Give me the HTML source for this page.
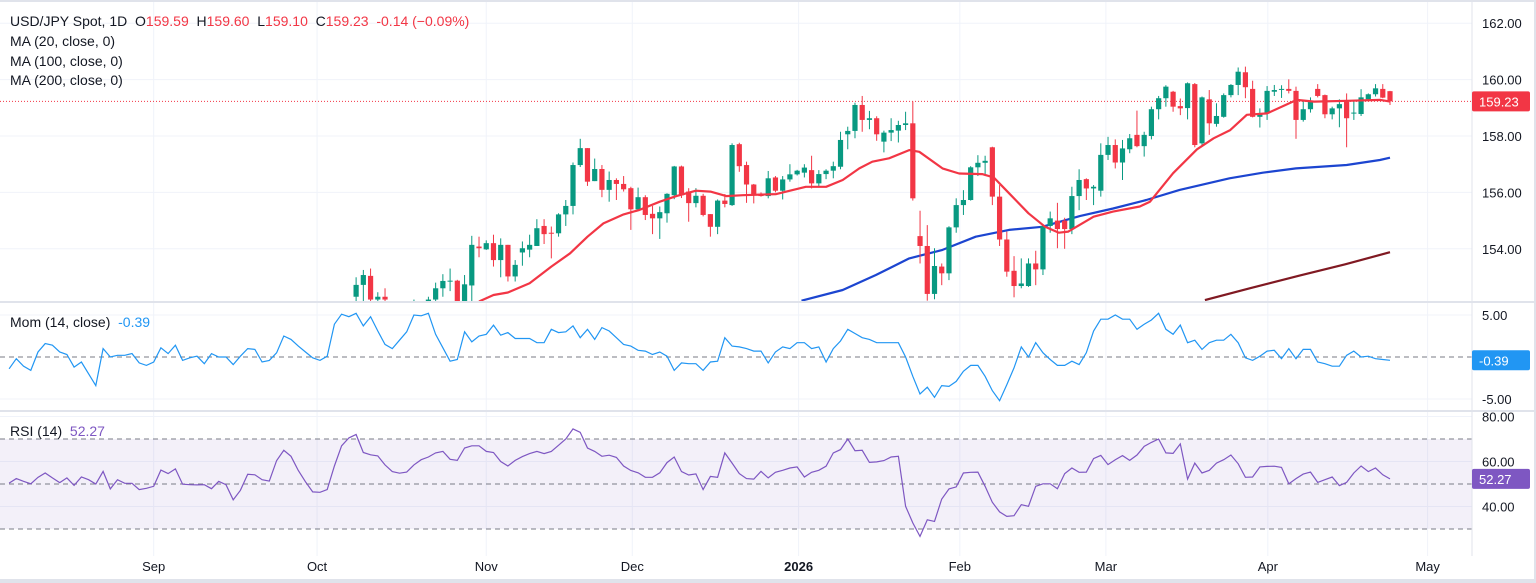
<!DOCTYPE html>
<html><head><meta charset="utf-8"><style>
html,body{margin:0;padding:0;background:#fff;}
svg{display:block;font-family:"Liberation Sans",sans-serif;}
</style></head><body>
<svg id="chart" width="1536" height="583" viewBox="0 0 1536 583" xmlns="http://www.w3.org/2000/svg">
<defs>
<clipPath id="cMain"><rect x="0" y="0" width="1472" height="301"/></clipPath>
<clipPath id="cMom"><rect x="0" y="303" width="1472" height="107"/></clipPath>
<clipPath id="cRsi"><rect x="0" y="412" width="1472" height="144"/></clipPath>
</defs>
<rect x="0" y="0" width="1536" height="583" fill="#fff"/>
<g id="grid"></g>
<g id="panes"></g>
<g id="marks"></g>
<g id="axes"></g>
<g id="legend" font-size="14" fill="#131722">
<text x="10" y="26" xml:space="preserve">USD/JPY Spot, 1D  O<tspan fill="#f23645">159.59</tspan>  H<tspan fill="#f23645">159.60</tspan>  L<tspan fill="#f23645">159.10</tspan>  C<tspan fill="#f23645">159.23  -0.14 (−0.09%)</tspan></text>
<text x="10" y="46">MA (20, close, 0)</text>
<text x="10" y="66">MA (100, close, 0)</text>
<text x="10" y="85">MA (200, close, 0)</text>
<text x="10" y="327" xml:space="preserve">Mom (14, close)  <tspan fill="#2196f3">-0.39</tspan></text>
<text x="10" y="436" xml:space="preserve">RSI (14)  <tspan fill="#7e57c2">52.27</tspan></text>
</g>
</svg>
<script>
const candleStart = 48;
const opens = [152.3,152.72,153.04,152.2,152.3,152.0,151.6,151.5,151.8,151.9,152.0,152.2,152.6,152.85,152.87,152.1,152.7,154.08,153.98,154.2,153.6,154.14,153.02,153.87,153.97,154.1,154.81,154.57,154.55,155.22,155.52,156.97,157.57,156.4,156.83,156.09,156.44,156.3,156.15,155.4,155.83,155.24,155.08,155.26,155.9,156.92,156.03,155.62,155.88,155.23,154.78,155.71,155.55,157.71,156.97,156.28,155.94,155.87,156.53,156.06,156.46,156.64,156.7,156.79,156.32,156.65,156.77,156.91,158.06,158.18,159.1,158.57,158.63,157.8,158.12,158.19,158.39,158.45,154.45,154.1,152.4,153.37,153.13,154.76,155.55,155.73,156.89,157.05,157.6,155.85,154.33,153.22,152.68,152.68,153.48,153.27,154.81,155.0,155.0,154.7,155.87,156.47,156.14,156.06,157.33,157.68,157.06,157.53,158.04,157.64,158.0,158.95,159.34,159.57,159.06,158.99,159.84,157.74,159.3,158.43,158.68,159.45,159.81,160.26,159.67,158.68,158.82,159.57,159.66,159.67,159.6,158.57,158.95,159.67,159.45,158.77,158.98,159.22,158.8,158.78,159.3,159.48,159.67,159.59];
const highs = [152.99,153.25,153.3,152.46,152.6,152.1,151.9,152.0,152.2,152.1,152.3,152.8,153.1,153.3,152.9,153.07,154.46,154.43,154.3,154.5,154.37,154.14,153.6,154.26,154.5,155.05,155.05,154.79,155.26,155.73,157.06,157.9,157.57,157.2,156.97,156.74,156.5,156.58,156.2,156.17,155.9,155.52,155.5,155.97,156.94,156.95,156.15,156.15,155.95,155.23,155.75,155.94,157.74,157.76,157.09,156.3,156.0,156.76,156.58,156.58,157.0,156.8,157.0,157.3,156.79,156.82,157.09,158.15,158.33,159.18,159.42,158.89,158.7,158.19,158.63,158.54,158.86,159.22,155.35,154.84,154.02,153.48,154.8,155.79,156.08,156.93,157.32,157.3,157.62,156.26,154.61,153.74,153.66,153.66,153.93,154.84,155.32,155.63,155.1,156.2,156.82,156.5,156.26,157.74,157.97,157.88,157.86,158.07,158.9,158.15,159.04,159.42,159.8,159.6,159.33,159.9,159.88,159.4,159.63,159.16,159.51,159.84,160.43,160.46,159.96,158.98,159.77,159.81,159.8,160.01,159.75,159.28,159.37,159.84,159.47,159.04,159.3,159.51,159.22,159.66,159.51,159.84,159.84,159.60];
const lows = [152.0,152.13,151.9,151.8,151.7,151.4,151.2,151.3,151.5,151.6,151.8,152.0,152.3,152.5,151.9,151.9,152.1,153.7,153.96,153.37,152.99,152.84,152.84,153.4,153.7,154.1,154.17,153.66,154.43,154.81,155.22,156.9,156.23,156.4,155.83,155.67,155.73,156.03,154.67,155.36,155.02,154.52,154.35,154.93,155.76,155.8,154.96,155.47,155.15,154.43,154.52,155.47,155.52,156.73,155.63,155.61,155.85,155.79,156.0,155.75,156.38,156.6,156.53,156.14,156.2,156.47,156.5,156.82,157.53,157.92,158.15,158.24,157.83,157.42,157.82,157.77,158.21,155.71,153.48,152.16,152.21,152.71,152.89,154.57,155.2,155.71,156.58,156.58,155.55,154.1,153.01,152.28,152.6,152.65,152.71,153.07,154.57,154.02,154.0,154.52,155.37,155.73,155.55,155.85,157.15,156.85,156.44,157.39,157.6,157.27,157.88,158.59,159.04,158.86,158.74,158.59,157.6,157.65,158.04,158.33,158.65,159.37,159.45,159.34,158.66,158.3,158.57,159.42,159.35,159.51,157.9,158.51,158.83,159.37,158.63,158.59,158.31,157.6,158.57,158.71,159.25,159.4,159.34,159.10];
const closes = [152.72,153.07,152.2,152.3,152.2,151.6,151.5,151.8,151.9,152.0,152.2,152.6,152.86,152.87,152.1,152.74,154.14,154.02,154.2,153.6,154.14,153.02,153.43,154.02,154.14,154.73,154.52,154.55,155.22,155.52,156.97,157.57,156.38,156.83,156.09,156.44,156.3,156.11,155.4,155.83,155.2,155.08,155.3,155.95,156.92,155.9,155.62,155.88,155.2,154.78,155.71,155.59,157.68,156.93,156.28,155.91,155.87,156.5,156.06,156.46,156.64,156.77,156.88,156.32,156.65,156.77,156.93,157.86,158.18,159.1,158.57,158.63,158.06,158.12,158.21,158.39,158.45,155.79,154.1,152.4,153.39,153.13,154.76,155.55,155.73,156.89,157.05,157.12,155.85,154.33,153.19,152.68,152.77,153.48,153.27,154.81,155.08,154.7,154.7,155.87,156.44,156.14,156.2,157.33,157.68,157.06,157.56,157.92,157.64,158.04,158.95,159.34,159.75,159.04,158.98,159.87,157.68,159.37,158.45,158.71,159.45,159.81,160.28,159.73,158.68,158.8,159.6,159.63,159.67,159.6,158.57,158.95,159.25,159.42,158.77,158.98,159.13,158.63,158.83,159.37,159.48,159.69,159.36,159.23];
const ma20Days = [65,67,69,72,75,77.6,80,82.2,85,87.2,90,92.3,95,97,99.2,101.5,106.1,110.2,113,115.3,117.6,119.4,121.7,124.5,125.9,129.1,131.4,134.6,136.2,138.3,141,143.3,145.2,146.5,148.1,150,152.7,156.4,157.8,161,164.3,166.6,168.9,171.2,174,178.1,180.5,185.1,189.7,191];
const ma20Vals = [152.13,152.36,152.45,152.78,153.37,153.84,154.43,154.9,155.22,155.38,155.67,155.87,156.06,156.03,155.87,155.9,155.94,156.2,156.2,156.44,156.85,157.09,157.21,157.5,157.44,156.85,156.67,156.65,156.53,155.97,155.26,154.78,154.57,154.61,154.85,155.14,155.32,155.5,155.67,156.68,157.53,157.92,158.21,158.75,158.8,159.28,159.22,159.25,159.28,159.22];
const ma100Days = [109.6,115.3,119.9,124.5,129.1,133.7,138.3,142.9,148.1,152.7,157.3,161.9,168.8,173.4,178,185,189.6,191];
const ma100Vals = [152.16,152.54,153.07,153.66,153.96,154.43,154.67,154.78,155.16,155.43,155.73,156.09,156.5,156.7,156.85,156.97,157.15,157.23];
const ma200Days = [165.4,171.6,178.5,184.8,191];
const ma200Vals = [152.18,152.6,153.05,153.45,153.88];
const momVals = [-1.4,-0.2,-1.1,-1.6,0.6,1.6,1.4,0.6,0.3,-1.2,-0.6,-2.0,-3.4,1.0,0,0.2,0.2,0.4,-0.7,-1.0,-0.6,1.1,0.4,1.4,-0.4,-0.1,0.1,-0.8,0.4,0,0,-0.9,0.1,1.0,0.9,-0.6,-0.4,0.5,2.5,2.1,1.3,0.6,-0.1,-0.4,0.1,3.9,5.1,4.8,5.2,3.7,4.8,3.1,1.5,1.0,2.0,3.0,5.0,4.9,5.2,2.7,1.1,-0.5,-0.3,3.0,1.8,2.5,2.7,3.8,2.6,2.9,2.2,2.2,2.2,1.7,1.7,3.3,2.9,3.0,3.7,2.3,3.3,2.1,3.5,3.1,2.3,1.5,1.3,0.8,0.7,0.3,0.6,0.1,-1.6,-0.7,-0.8,-0.8,
-1.6,-0.6,-0.5,2.3,1.3,1.2,1.0,0.7,0.7,-0.7,0.6,1.2,1.0,1.7,1.7,1.0,1.2,-0.6,1.0,1.9,3.3,2.8,2.3,2.1,1.7,1.7,1.7,1.7,0,-2.3,-4.4,-3.6,-4.8,-3.4,-3.5,-2.9,-1.7,-1.0,-1.0,-2.3,-4.0,-5.2,-3.3,-1.3,1.2,0,1.7,0.5,-0.3,-1.0,-1.0,-0.5,-0.9,0.5,3.1,4.5,4.5,5.0,4.5,4.5,3.3,3.9,4.4,5.2,3.3,2.7,3.8,1.7,2.0,0.9,1.7,2.0,2.0,2.7,1.7,-0.1,-0.4,0.1,0.7,0.8,-0.2,1.0,-0.2,0.9,0.9,-0.6,-0.8,-1.1,-1.1,0.2,0.7,0,0.1,-0.2,-0.3,-0.39];
const rsiVals = [50.4,52.4,51.2,50.1,53.0,54.9,52.7,50.6,52.7,49.4,53.1,51.9,50,55.6,47.8,51.9,50.3,50.3,47.5,48.1,49.0,56.2,54.6,56.7,49.9,49.7,49.6,49.7,47.9,51.2,49.7,43.0,47.2,54.3,54.1,51.9,51.3,60.4,65.0,62.3,56,51,46.5,46.3,47.5,58,67,70.5,72,64,63,62.5,58.5,55.5,54.8,55.3,58.5,60.8,62,63.8,64.5,61,60.5,66,67,67,64.5,64,60,58,60.5,62.2,63.5,64.5,63.5,64.5,67.2,70,74.5,73,66,64.5,62.3,62.8,61.8,58,56,55,53,53,55,59.5,62,55.5,54,54.5,
47.5,53.4,53.0,63.8,59.3,54.6,52.4,52.2,55.6,52.7,55.2,56.1,57.1,57.6,53.1,55.2,56.1,57.9,63.8,65.3,70,64.8,65.0,59.6,59.8,60.4,62.0,62.3,40.1,32.7,26.7,34.1,33.4,43.3,47.8,48.7,54.9,55.2,55.3,49.0,41.9,37.6,35.6,35.9,40.8,40.1,49.0,50.1,50.1,47.9,54.6,57.1,55.2,55.3,61.3,62.7,58.6,60.8,62.6,60.5,62.9,66.7,68.5,70,63.8,63.6,67.8,52.2,59.3,54.9,56.1,59.3,60.8,62.9,59.0,53.0,53.1,57.6,57.8,57.9,57.4,50.1,52.4,54.4,55.3,50.7,51.9,53.1,49.3,50.7,54.9,58,55.5,57.1,54.1,52.27];
const priceTicks = [162,160,158,156,154];
const momTicks = [5,-5];
const rsiTicks = [80,60,40];
const rsiLevels = [70,50,30];
const monthLabels = ["Sep","Oct","Nov","Dec","2026","Feb","Mar","Apr","May"];
const monthIdx = [20.0,42.6,66,86.2,109.2,131.5,151.7,174.1,196.2];
const lastPrice = 159.23, lastMom = -0.39, lastRsi = 52.27;

const NS="http://www.w3.org/2000/svg";
const N = momVals.length;
const xStep = 7.23, xLast = 1390;
const X = i => xLast - (N-1-i)*xStep;
const Yp = p => 136 + (158-p)*28.2;
const Ym = v => 357 - v*8.4;
const Yr = v => 484 - (v-50)*2.25;
function el(tag, attrs, parent){const e=document.createElementNS(NS,tag);for(const k in attrs)e.setAttribute(k,attrs[k]);parent.appendChild(e);return e;}
const grid=document.getElementById('grid'), panes=document.getElementById('panes'), marks=document.getElementById('marks'), axes=document.getElementById('axes');

const band = el('rect',{x:0,y:Yr(70),width:1472,height:Yr(30)-Yr(70),fill:'rgba(126,87,194,0.09)'},panes);



monthIdx.forEach((m,k)=>{
  const x=X(m);
  el('line',{x1:x,x2:x,y1:0,y2:556,stroke:'#f0f3fa','stroke-width':1},grid);
  const t=el('text',{x:x,y:571,'text-anchor':'middle','font-size':13,fill:'#131722','font-weight':monthLabels[k]==='2026'?'bold':'normal'},axes);
  t.textContent=monthLabels[k];
  
  
});
priceTicks.forEach(p=>{
  el('line',{x1:0,x2:1472,y1:Yp(p),y2:Yp(p),stroke:'#f0f3fa'},grid);
  const t=el('text',{x:1482,y:Yp(p)+5,'font-size':13,fill:'#131722'},axes);
  t.textContent=p.toFixed(2);
  
  
});
momTicks.forEach(v=>{
  el('line',{x1:0,x2:1472,y1:Ym(v),y2:Ym(v),stroke:'#f0f3fa'},grid);
  const t=el('text',{x:1482,y:Ym(v)+5,'font-size':13,fill:'#131722'},axes);
  t.textContent=v.toFixed(2);
  
  
});
rsiTicks.forEach(v=>{
  el('line',{x1:0,x2:1472,y1:Yr(v),y2:Yr(v),stroke:'#f0f3fa'},grid);
  const t=el('text',{x:1482,y:Yr(v)+5,'font-size':13,fill:'#131722'},axes);
  t.textContent=v.toFixed(2);
  
  
});
rsiLevels.forEach(v=>{
  const l=el('line',{x1:0,x2:1472,y1:Yr(v),y2:Yr(v),stroke:'#787b86','stroke-dasharray':'5,4','stroke-width':1},panes);
  
  
});
const zl=el('line',{x1:0,x2:1472,y1:Ym(0),y2:Ym(0),stroke:'#787b86','stroke-dasharray':'5,4'},panes);


[302,411].forEach(y=>{el('rect',{x:0,y:y-1,width:1536,height:2,fill:'#e0e3eb'},panes);});
el('line',{x1:1472,x2:1472,y1:0,y2:556,stroke:'#e0e3eb'},panes);
el('rect',{x:0,y:579,width:1536,height:4,fill:'#e0e3eb'},panes);
el('rect',{x:0,y:0,width:1536,height:2,fill:'#e0e3eb'},panes);
el('rect',{x:1534,y:0,width:2,height:583,fill:'#e0e3eb'},panes);

const gMain=el('g',{'clip-path':'url(#cMain)'},marks);


const lp=el('line',{x1:0,x2:1472,y1:Yp(lastPrice),y2:Yp(lastPrice),stroke:'#f23645','stroke-dasharray':'1,2'},gMain);


function maPath(days,vals,color,name,w){
  const d=days.map((t,k)=>(k?'L':'M')+X(t).toFixed(1)+','+Yp(vals[k]).toFixed(1)).join('');
  const p=el('path',{d:d,fill:'none',stroke:color,'stroke-width':w,'stroke-linejoin':'round'},gMain);
  
  
}
maPath(ma200Days,ma200Vals,'#801922','ma200-line',2.2);
maPath(ma100Days,ma100Vals,'#1c45d0','ma100-line',2.2);
for(let k=0;k<closes.length;k++){
  const i=candleStart+k, x=X(i), o=opens[k], c=closes[k];
  const up=c>=o, col=up?'#089981':'#f23645';
  const g=el('g',{},gMain);
  
  
  el('line',{x1:x,x2:x,y1:Yp(highs[k]),y2:Yp(lows[k]),stroke:col,'stroke-width':1},g);
  const yt=Yp(Math.max(o,c)), yb=Yp(Math.min(o,c));
  el('rect',{x:x-2.6,y:yt,width:5.2,height:Math.max(1,yb-yt),fill:col},g);
}
maPath(ma20Days,ma20Vals,'#f23645','ma20-line',2.2);

const gMom=el('g',{'clip-path':'url(#cMom)'},marks);
const mp=el('path',{d:momVals.map((v,i)=>(i?'L':'M')+X(i).toFixed(1)+','+Ym(v).toFixed(1)).join(''),fill:'none',stroke:'#2196f3','stroke-width':1.2},gMom);


const gRsi=el('g',{'clip-path':'url(#cRsi)'},marks);
const rp=el('path',{d:rsiVals.map((v,i)=>(i?'L':'M')+X(i).toFixed(1)+','+Yr(v).toFixed(1)).join(''),fill:'none',stroke:'#7e57c2','stroke-width':1.2},gRsi);



function tag(y,txt,col,name){
  const g=el('g',{},axes);
  
  
  el('rect',{x:1472,y:y-10,width:58,height:20,fill:col,rx:2},g);
  const t=el('text',{x:1479,y:y+5,'font-size':13,fill:'#fff'},g);
  t.textContent=txt;
}
tag(Yp(lastPrice),lastPrice.toFixed(2),'#f23645','last-price-tag');
tag(Ym(lastMom),lastMom.toFixed(2),'#2196f3','momentum-value-tag');
tag(Yr(lastRsi),lastRsi.toFixed(2),'#7e57c2','rsi-value-tag');
</script>
</body></html>
